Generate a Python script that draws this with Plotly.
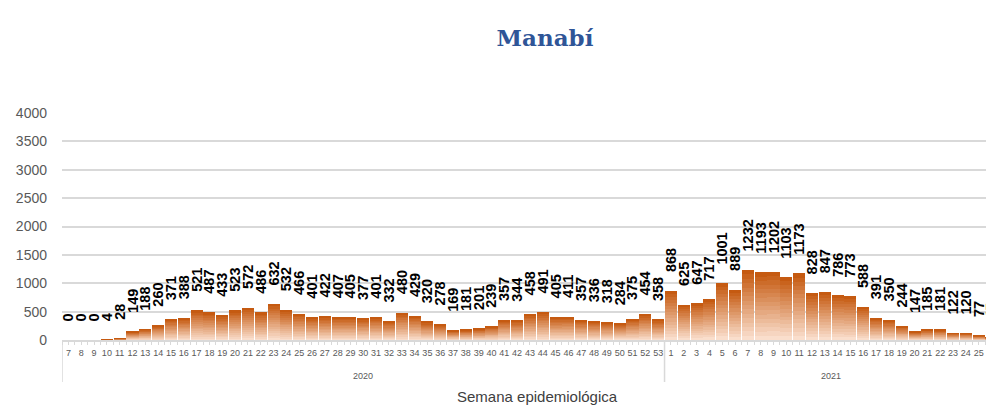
import plotly.graph_objects as go

# ---- data ----
weeks_2020 = list(range(7, 54))
cases_2020 = [0, 0, 0, 4, 28, 149, 188, 260, 371, 388, 521, 487, 433, 523, 572, 486,
              632, 532, 466, 401, 422, 407, 405, 377, 401, 332, 480, 429, 320, 278,
              169, 181, 201, 239, 357, 344, 458, 491, 405, 411, 357, 336, 318, 284,
              375, 454, 358]
weeks_2021 = list(range(1, 27))
cases_2021 = [868, 625, 647, 717, 1001, 889, 1232, 1193, 1202, 1103, 1173, 828, 847,
              786, 773, 588, 391, 350, 244, 147, 185, 181, 122, 120, 77, 45]
year_names = ["2020", "2021"]
y_ticks = [0, 500, 1000, 1500, 2000, 2500, 3000, 3500, 4000]

weeks = [str(w) for w in weeks_2020 + weeks_2021]
cases = cases_2020 + cases_2021
groups = [len(weeks_2020), len(weeks_2021)]
xs = list(range(len(cases)))

# page offset (browser body margin) compensation
OFF = 8
FW, FH = 994 - OFF, 406 - OFF

# ---- gradient via stacked segments ----
N = 16
bottom = (250, 222, 204)
top = (197, 90, 17)


def mix(t):
    r, g, b = (round(bottom[k] + (top[k] - bottom[k]) * t) for k in range(3))
    return f"rgb({r},{g},{b})"


fig = go.Figure()
for i in range(N):
    t = i / (N - 1)
    fig.add_trace(go.Bar(
        x=xs, y=[c / N for c in cases],
        marker=dict(color=mix(t), line=dict(width=0)),
        hoverinfo="skip", showlegend=False,
    ))

# invisible spacer on top of each bar; the data labels sit just above it
LABEL_GAP = 275
fig.add_trace(go.Bar(
    x=xs, y=[LABEL_GAP] * len(cases),
    marker=dict(color="rgba(0,0,0,0)", line=dict(width=0)),
    text=[str(c) for c in cases], texttemplate="<b>%{text}</b>",
    textposition="outside", textangle=-90,
    constraintext="none", cliponaxis=False,
    textfont=dict(family="Liberation Sans, Arial", size=14.5, color="black"),
    hoverinfo="skip", showlegend=False,
))

L, R, T, B = 62 - OFF, 0, 113 - OFF, FH - (340 - OFF)
PW, PH = FW - L - R, FH - T - B
step = 12.82
span = PW / step

# year group labels and dividers
annotations = []
shapes = []
start = 0
for name, n in zip(year_names, groups):
    annotations.append(dict(
        text=name, xref="x", yref="paper", x=start + (n - 1) / 2, y=(340 - 376) / PH,
        xanchor="center", yanchor="middle", showarrow=False,
        font=dict(family="Liberation Sans Narrow, Liberation Sans", size=9, color="#595959"),
    ))
    shapes.append(dict(type="line", xref="x", yref="paper", x0=start - 0.5, x1=start - 0.5,
                       y0=0, y1=(340 - 382) / PH, line=dict(color="#D9D9D9", width=1.5)))
    start += n

annotations.append(dict(
    text="Semana epidemiológica", xref="paper", yref="paper",
    x=(537 - 62) / PW, y=(340 - 396) / PH, xanchor="center", yanchor="middle",
    showarrow=False, font=dict(family="Liberation Sans, Arial", size=15, color="#404040"),
))

fig.update_layout(
    width=FW, height=FH,
    barmode="stack", bargap=0.06,
    plot_bgcolor="white", paper_bgcolor="white",
    margin=dict(l=L, r=R, t=T, b=B, autoexpand=False),
    title=dict(text="<b>Manabí</b>", x=(545 - OFF) / FW, xref="container", xanchor="center",
               y=1 - (38 - OFF) / FH, yref="container", yanchor="middle",
               font=dict(family="DejaVu Serif", size=23, color="#2F5597")),
    xaxis=dict(
        range=[-0.5, -0.5 + span],
        tickvals=xs, ticktext=weeks,
        showline=True, linecolor="#D9D9D9", linewidth=1.5,
        ticks="outside", ticklen=3, tickcolor="#D9D9D9", tickwidth=1,
        minor=dict(tickvals=[x - 0.5 for x in xs], ticks="outside", ticklen=3,
                   tickcolor="#D9D9D9", tickwidth=1),
        tickangle=0, ticklabeloverflow="allow",
        tickfont=dict(family="Liberation Sans Narrow, Liberation Sans", size=9, color="#595959"),
        showgrid=False, zeroline=False,
    ),
    yaxis=dict(
        range=[0, 4000],
        tickvals=y_ticks,
        showgrid=True, gridcolor="#D9D9D9", gridwidth=1.5,
        zeroline=False, showline=False,
        tickfont=dict(family="Liberation Sans, Arial", size=14, color="#595959"),
        ticklabelstandoff=14,
    ),
    annotations=annotations,
    shapes=shapes,
)

fig.write_html("out.html")
